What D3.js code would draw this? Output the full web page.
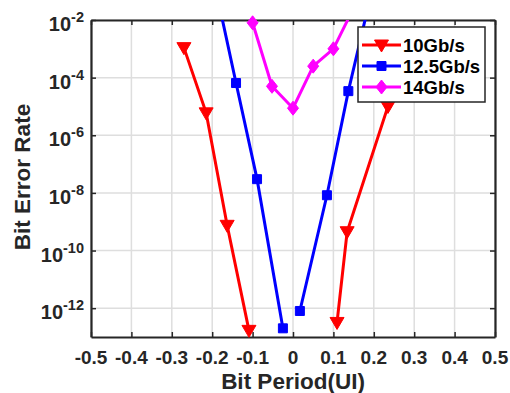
<!DOCTYPE html>
<html>
<head>
<meta charset="utf-8">
<script src="https://cdn.jsdelivr.net/npm/d3@7"></script>
<style>
  body { margin: 0; background: #fff; }
  svg text { font-family: "Liberation Sans", Arial, sans-serif; font-weight: bold; fill: #262626; }
</style>
</head>
<body>
<svg width="510" height="393"></svg>
<script>
// **** data (each curve drawn as a left and a right branch) ****
var seriesNames = ['10Gb/s', '12.5Gb/s', '14Gb/s'];
var seriesColors = ['#ff0000', '#0000ff', '#ff00ff'];

var x10Left = [-0.27, -0.215, -0.163, -0.109];
var ber10Left = [1.1e-3, 6e-6, 7.5e-10, 1.7e-13];
var x10Right = [0.109, 0.134, 0.235, 0.27];
var ber10Right = [3.2e-13, 4.5e-10, 1e-5, 1e-3];

var x125Left = [-0.19, -0.141, -0.089, -0.025];
var ber125Left = [1e-1, 6.5e-5, 3e-8, 2e-13];
var x125Right = [0.017, 0.084, 0.137, 0.19];
var ber125Right = [8e-13, 8.3e-9, 3.4e-5, 5e-2];

var x14 = [-0.1, -0.052, 0.0, 0.05, 0.1, 0.16];
var ber14 = [8e-3, 5e-5, 8.7e-6, 2.5e-4, 1e-3, 5e-2];

var xTicks = [-0.5, -0.4, -0.3, -0.2, -0.1, 0, 0.1, 0.2, 0.3, 0.4, 0.5];
var yTickExps = [-2, -4, -6, -8, -10, -12];

// **** scales ****
var plotLeft = 91, plotRight = 495, plotTop = 20, plotBottom = 337;
var xScale = d3.scaleLinear().domain([-0.5, 0.5]).range([plotLeft, plotRight]);
var yScale = d3.scaleLog().domain([1e-13, 1e-2]).range([plotBottom, plotTop]);

var svg = d3.select('svg');

svg.append('clipPath').attr('id', 'plotClip')
  .append('rect').attr('x', plotLeft).attr('y', plotTop)
  .attr('width', plotRight - plotLeft).attr('height', plotBottom - plotTop);

// grid
var grid = svg.append('g').attr('stroke', '#dedede').attr('stroke-width', 1.5);
xTicks.forEach(function (t) {
  grid.append('line').attr('x1', xScale(t)).attr('x2', xScale(t)).attr('y1', plotTop).attr('y2', plotBottom);
});
yTickExps.forEach(function (e) {
  grid.append('line').attr('x1', plotLeft).attr('x2', plotRight)
    .attr('y1', yScale(Math.pow(10, e))).attr('y2', yScale(Math.pow(10, e)));
});

// axes (box, inward ticks)
var axisColor = '#262626';
var yTickVals = yTickExps.map(function (e) { return Math.pow(10, e); });
var xBottom = svg.append('g').attr('transform', 'translate(0,' + plotBottom + ')')
  .call(d3.axisBottom(xScale).tickValues(xTicks).tickSizeInner(-5).tickSizeOuter(0).tickFormat(''));
var xTop = svg.append('g').attr('transform', 'translate(0,' + plotTop + ')')
  .call(d3.axisTop(xScale).tickValues(xTicks).tickSizeInner(-5).tickSizeOuter(0).tickFormat(''));
var yLeft = svg.append('g').attr('transform', 'translate(' + plotLeft + ',0)')
  .call(d3.axisLeft(yScale).tickValues(yTickVals).tickSizeInner(-5).tickSizeOuter(0).tickFormat(''));
var yRight = svg.append('g').attr('transform', 'translate(' + plotRight + ',0)')
  .call(d3.axisRight(yScale).tickValues(yTickVals).tickSizeInner(-5).tickSizeOuter(0).tickFormat(''));
[xBottom, xTop, yLeft, yRight].forEach(function (a) {
  a.selectAll('path').attr('stroke', axisColor).attr('stroke-width', 2.2);
  a.selectAll('line').attr('stroke', axisColor).attr('stroke-width', 1.5);
});

// tick labels
xTicks.forEach(function (t) {
  svg.append('text')
    .attr('x', xScale(t)).attr('y', 364)
    .attr('text-anchor', 'middle')
    .style('font-size', '19px')
    .text(t === 0 ? '0' : d3.format('.1f')(t).replace('\u2212', '-'));
});
yTickExps.forEach(function (e) {
  var txt = svg.append('text')
    .attr('x', 84).attr('y', yScale(Math.pow(10, e)) + 11)
    .attr('text-anchor', 'end')
    .style('font-size', '20px');
  txt.append('tspan').text('10');
  txt.append('tspan').attr('dy', -9).style('font-size', '14.5px').text(String(e));
});

// axis titles
svg.append('text')
  .attr('x', 293).attr('y', 389)
  .attr('text-anchor', 'middle')
  .style('font-size', '22.5px')
  .text('Bit Period(UI)');
svg.append('text')
  .attr('transform', 'translate(30,177) rotate(-90)')
  .attr('text-anchor', 'middle')
  .style('font-size', '22.5px')
  .text('Bit Error Rate');

// marker shapes
function markerPath(kind) {
  if (kind === 0) return 'M-7,-5L7,-5L0,7Z';
  if (kind === 1) return 'M-4.5,-4.5L4.5,-4.5L4.5,4.5L-4.5,4.5Z';
  return 'M0,-7L5.5,0L0,7L-5.5,0Z';
}

var branches = [
  { s: 0, xs: x10Left, ys: ber10Left },
  { s: 0, xs: x10Right, ys: ber10Right },
  { s: 1, xs: x125Left, ys: ber125Left },
  { s: 1, xs: x125Right, ys: ber125Right },
  { s: 2, xs: x14, ys: ber14 }
];
var line = d3.line().x(function (d) { return xScale(d[0]); }).y(function (d) { return yScale(d[1]); });

branches.forEach(function (b) {
  var color = seriesColors[b.s];
  var pts = b.xs.map(function (x, j) { return [x, b.ys[j]]; });
  svg.append('path')
    .attr('clip-path', 'url(#plotClip)')
    .attr('d', line(pts))
    .attr('fill', 'none')
    .attr('stroke', color)
    .attr('stroke-width', 3);
  pts.filter(function (p) { return p[1] <= 1e-2 && p[1] >= 1e-13; }).forEach(function (p) {
    svg.append('path')
      .attr('d', markerPath(b.s))
      .attr('transform', 'translate(' + xScale(p[0]) + ',' + yScale(p[1]) + ')')
      .attr('fill', color)
      .attr('stroke', color)
      .attr('stroke-width', 1);
  });
});

// legend
var legend = svg.append('g');
legend.append('rect')
  .attr('x', 358).attr('y', 27).attr('width', 127).attr('height', 75)
  .attr('fill', '#fff').attr('stroke', axisColor).attr('stroke-width', 1.5);
seriesNames.forEach(function (name, i) {
  var ly = 45 + i * 21;
  legend.append('line')
    .attr('x1', 362).attr('x2', 401).attr('y1', ly).attr('y2', ly)
    .attr('stroke', seriesColors[i]).attr('stroke-width', 3);
  legend.append('path')
    .attr('d', markerPath(i))
    .attr('transform', 'translate(381.5,' + ly + ')')
    .attr('fill', seriesColors[i]).attr('stroke', seriesColors[i]);
  legend.append('text')
    .attr('x', 403).attr('y', ly + 6.5)
    .style('font-size', '18.5px')
    .style('fill', '#000')
    .text(name);
});
</script>
</body>
</html>
